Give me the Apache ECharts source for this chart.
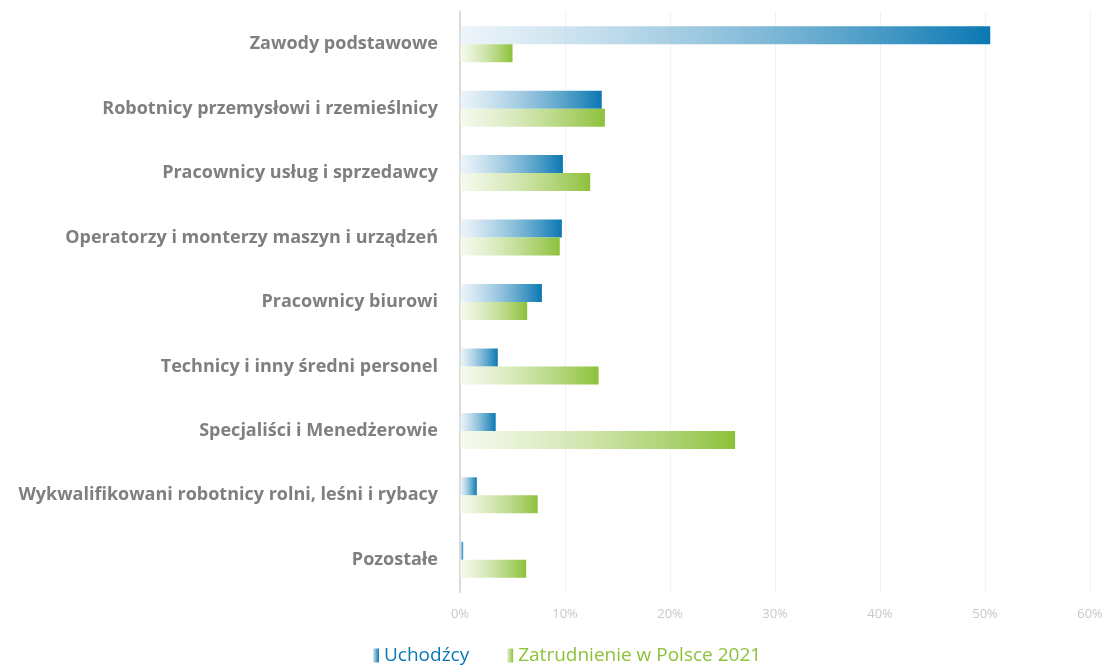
<!DOCTYPE html>
<html>
<head>
<meta charset="utf-8">
<script src="https://cdn.jsdelivr.net/npm/echarts@6/dist/echarts.min.js"></script>
<style>
  html, body { margin: 0; padding: 0; background: #fff; }
  #main { width: 1111px; height: 666px; }
</style>
</head>
<body>
<div id="main"></div>
<script>
// dane
var categories = [
    'Zawody podstawowe',
    'Robotnicy przemysłowi i rzemieślnicy',
    'Pracownicy usług i sprzedawcy',
    'Operatorzy i monterzy maszyn i urządzeń',
    'Pracownicy biurowi',
    'Technicy i inny średni personel',
    'Specjaliści i Menedżerowie',
    'Wykwalifikowani robotnicy rolni, leśni i rybacy',
    'Pozostałe'
];
var uchodzcy = [50.5, 13.5, 9.8, 9.7, 7.8, 3.6, 3.4, 1.6, 0.3];
var zatrudnienie = [5.0, 13.8, 12.4, 9.5, 6.4, 13.2, 26.2, 7.4, 6.3];
var seriesNames = ['Uchodźcy', 'Zatrudnienie w Polsce 2021'];

var blue = '#0a78b2';
var green = '#8dc13a';

function grad(c, start) {
    return new echarts.graphic.LinearGradient(0, 0, 1, 0, [
        { offset: 0, color: start },
        { offset: 1, color: c }
    ]);
}

var chart = echarts.init(document.getElementById('main'));

var option = {
    animation: false,
    textStyle: { fontFamily: 'Open Sans' },
    grid: { left: 460, right: 21, top: 12, bottom: 74, containLabel: false },
    legend: {
        bottom: -4,
        left: 368,
        itemWidth: 6,
        itemHeight: 14,
        itemGap: 38,
        itemTextGap: 4,
        icon: 'rect',
        textStyle: { fontSize: 19, fontFamily: 'Open Sans' },
        data: [
            { name: seriesNames[0], textStyle: { color: blue }, itemStyle: { color: grad(blue, '#d6e9f3') } },
            { name: seriesNames[1], textStyle: { color: green }, itemStyle: { color: grad(green, '#e6f1d3') } }
        ]
    },
    xAxis: {
        type: 'value',
        min: 0,
        max: 60,
        interval: 10,
        axisLine: { show: false },
        axisTick: { show: false },
        splitLine: { lineStyle: { color: '#f2f2f2' } },
        axisLabel: { color: '#c8c8c8', fontSize: 13, margin: 16, formatter: '{value}%' }
    },
    yAxis: {
        type: 'category',
        inverse: true,
        data: categories,
        axisLine: { lineStyle: { color: '#d9d9d9', width: 2 } },
        axisTick: { show: false },
        axisLabel: { color: '#7f7f7f', fontSize: 18, fontWeight: 'bold', margin: 22 }
    },
    series: [
        {
            name: seriesNames[0],
            type: 'bar',
            barWidth: 18,
            barGap: '0%',
            itemStyle: { color: grad(blue, 'rgba(225,238,246,0.6)') },
            data: uchodzcy
        },
        {
            name: seriesNames[1],
            type: 'bar',
            barWidth: 18,
            barGap: '0%',
            itemStyle: { color: grad(green, 'rgba(240,246,228,0.6)') },
            data: zatrudnienie
        }
    ]
};

chart.setOption(option);

window.addEventListener('resize', function () {
    chart.resize();
});
</script>
</body>
</html>
